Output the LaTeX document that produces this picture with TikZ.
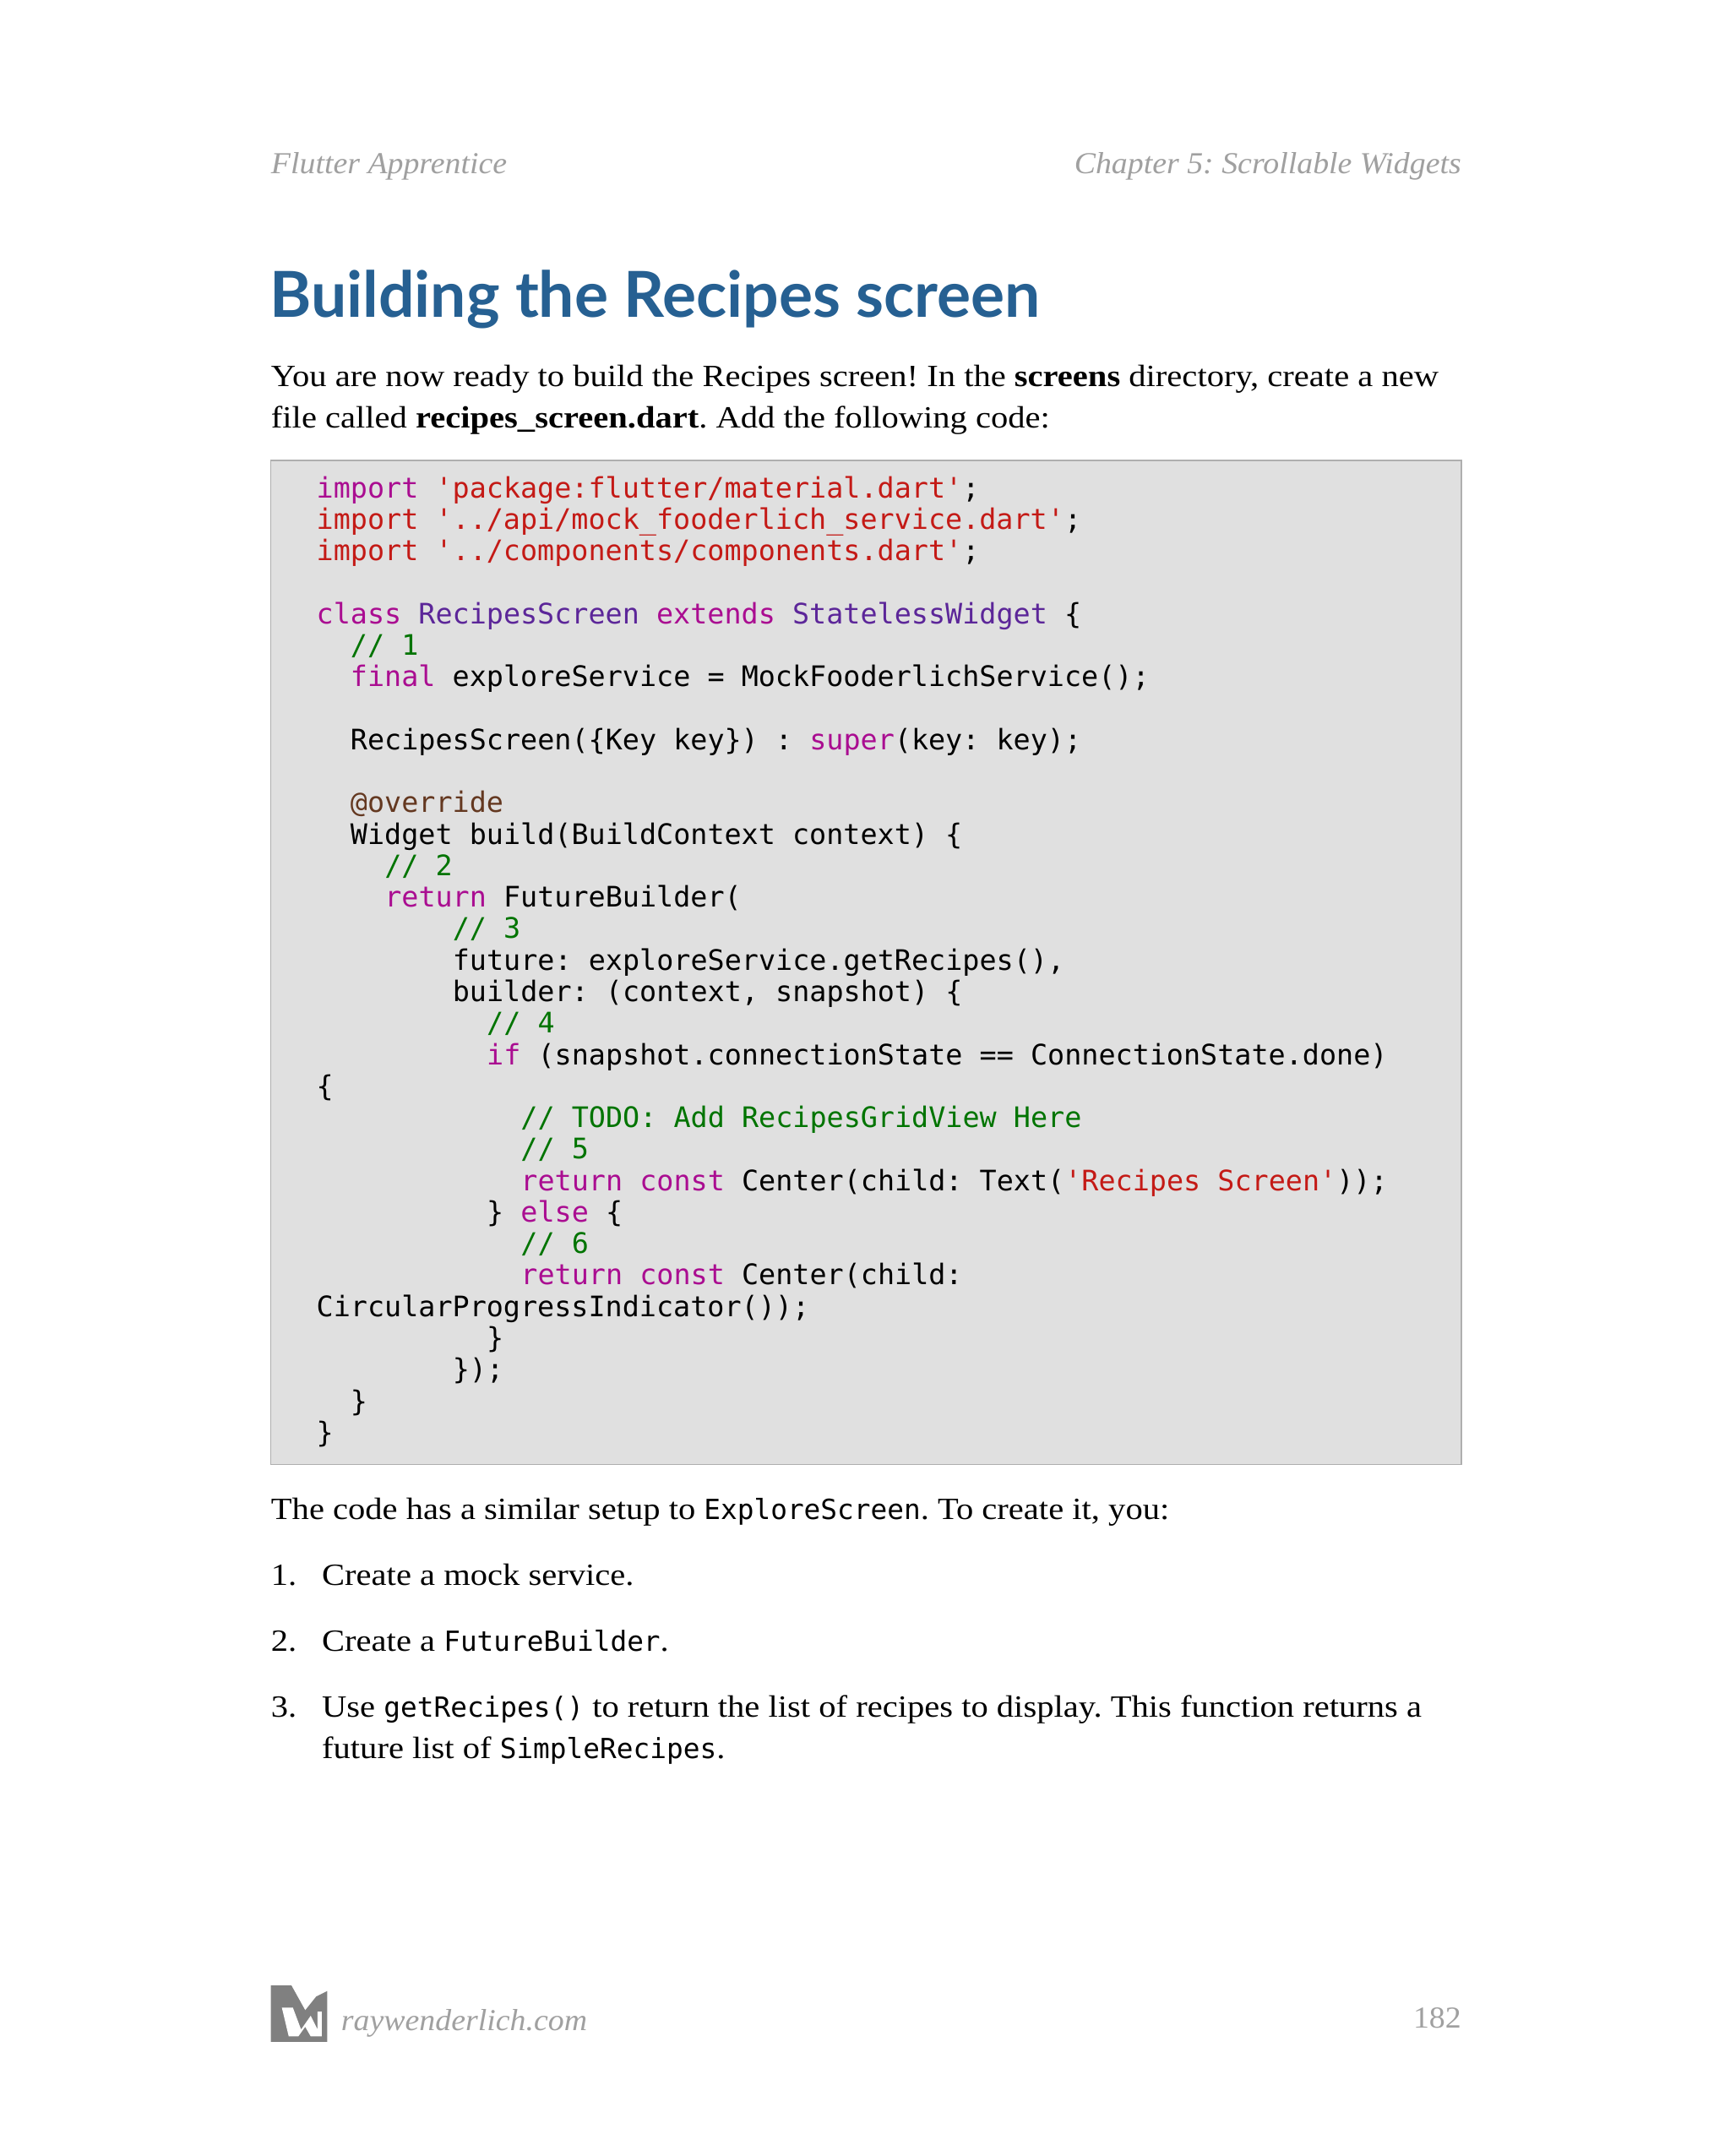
\documentclass[tikz,border=0pt]{standalone}
\usepackage{fontspec}
\setmainfont{Liberation Serif}[FakeStretch=1.11]
\setmonofont{DejaVu Sans Mono}
\newfontfamily\titlefont{Lato}
\newfontfamily\hdrfont{Liberation Serif}[FakeStretch=1.05]
\frenchspacing
\definecolor{kw}{RGB}{170,13,145}
\definecolor{st}{RGB}{196,26,22}
\definecolor{cm}{RGB}{0,116,0}
\definecolor{ty}{RGB}{92,38,153}
\definecolor{an}{RGB}{100,56,32}
\definecolor{hd}{RGB}{160,160,160}
\definecolor{ttl}{RGB}{38,96,146}
\definecolor{boxbg}{RGB}{224,224,224}
\definecolor{boxfr}{RGB}{175,175,175}
\newcommand{\K}[1]{\textcolor{kw}{#1}}
\newcommand{\Ss}[1]{\textcolor{st}{#1}}
\newcommand{\C}[1]{\textcolor{cm}{#1}}
\newcommand{\Ty}[1]{\textcolor{ty}{#1}}
\newcommand{\An}[1]{\textcolor{an}{#1}}
\newcommand{\T}[1]{{\fontsize{20}{23}\ttfamily #1}}
\begin{document}
\begin{tikzpicture}[x=0.9934pt,y=-0.9934pt,
  code/.style={anchor=base west,inner sep=0pt,font=\fontsize{20.4}{23}\ttfamily},
  body/.style={anchor=base west,inner sep=0pt,font=\fontsize{22.3}{30}\selectfont},
  hdr/.style={inner sep=0pt,font=\fontsize{22}{26}\hdrfont\itshape,text=hd}]
\useasboundingbox[fill=white] (0,0) rectangle (1258,1568);
\node[hdr,anchor=base west] (h1) at (197,126) {Flutter Apprentice};
\node[hdr,anchor=base east] (h2) at (1063,126) {Chapter 5: Scrollable Widgets};
\node[anchor=base west,inner sep=0pt,text=ttl,font=\fontsize{45.8}{50}\titlefont\bfseries] (title) at (196,231) {Building the Recipes screen};
\node[body] (p1) at (197,281) {You are now ready to build the Recipes screen! In the \textbf{screens} directory, create a new};
\node[body] (p2) at (197,311) {file called \textbf{recipes\_screen.dart}. Add the following code:};
\draw[boxfr,fill=boxbg,line width=1pt] (197,335) rectangle (1063,1065);
\def\cw{12.38}
\foreach \n/\ind/\txt in {
 1/0/{\Ss{\K{import} 'package:flutter/material.dart'};},
 2/0/{\Ss{import '../api/mock\_fooderlich\_service.dart'};},
 3/0/{\Ss{import '../components/components.dart'};},
 5/0/{\K{class} \Ty{RecipesScreen} \K{extends} \Ty{StatelessWidget} \{},
 6/2/{\C{// 1}},
 7/2/{\K{final} exploreService = MockFooderlichService();},
 9/2/{RecipesScreen(\{Key key\}) : \K{super}(key: key);},
 11/2/{\An{@override}},
 12/2/{Widget build(BuildContext context) \{},
 13/4/{\C{// 2}},
 14/4/{\K{return} FutureBuilder(},
 15/8/{\C{// 3}},
 16/8/{future: exploreService.getRecipes(),},
 17/8/{builder: (context, snapshot) \{},
 18/10/{\C{// 4}},
 19/10/{\K{if} (snapshot.connectionState == ConnectionState.done)},
 20/0/{\{},
 21/12/{\C{// TODO: Add RecipesGridView Here}},
 22/12/{\C{// 5}},
 23/12/{\K{return} \K{const} Center(child: Text(\Ss{'Recipes Screen'}));},
 24/10/{\} \K{else} \{},
 25/12/{\C{// 6}},
 26/12/{\K{return} \K{const} Center(child:},
 27/0/{CircularProgressIndicator());},
 28/10/{\}},
 29/8/{\});},
 30/2/{\}},
 31/0/{\}}}
 {\node[code] (c\n) at ({230+\ind*\cw},{362+(\n-1)*22.9}) {\txt};}
\node[body] (p3) at (197,1105) {The code has a similar setup to \T{ExploreScreen}. To create it, you:};
\node[body] (n1) at (197,1153) {1.};
\node[body] (l1) at (234,1153) {Create a mock service.};
\node[body] (n2) at (197,1201) {2.};
\node[body] (l2) at (234,1201) {Create a \T{FutureBuilder}.};
\node[body] (n3) at (197,1249) {3.};
\node[body] (l3) at (234,1249) {Use \T{getRecipes()} to return the list of recipes to display. This function returns a};
\node[body] (l3b) at (234,1279) {future list of \T{SimpleRecipes}.};
\fill[hd!80!black] (197,1444) -- (212,1444) -- (222,1462) -- (230,1452) -- (238,1448) -- (238,1485) -- (197,1485) -- cycle;
\fill[white] (205,1460) -- (213,1460) -- (219,1476) -- (226,1466) -- (231,1476) -- (231,1463) -- (234,1463) -- (234,1481) -- (226,1481) -- (222,1474) -- (217,1481) -- (210,1481) -- cycle;
\node[hdr,anchor=base west] (logo) at (248,1477) {raywenderlich.com};
\node[hdr,anchor=base east,font=\fontsize{22}{26}\hdrfont] (pg) at (1063,1475) {182};
\end{tikzpicture}
\end{document}
